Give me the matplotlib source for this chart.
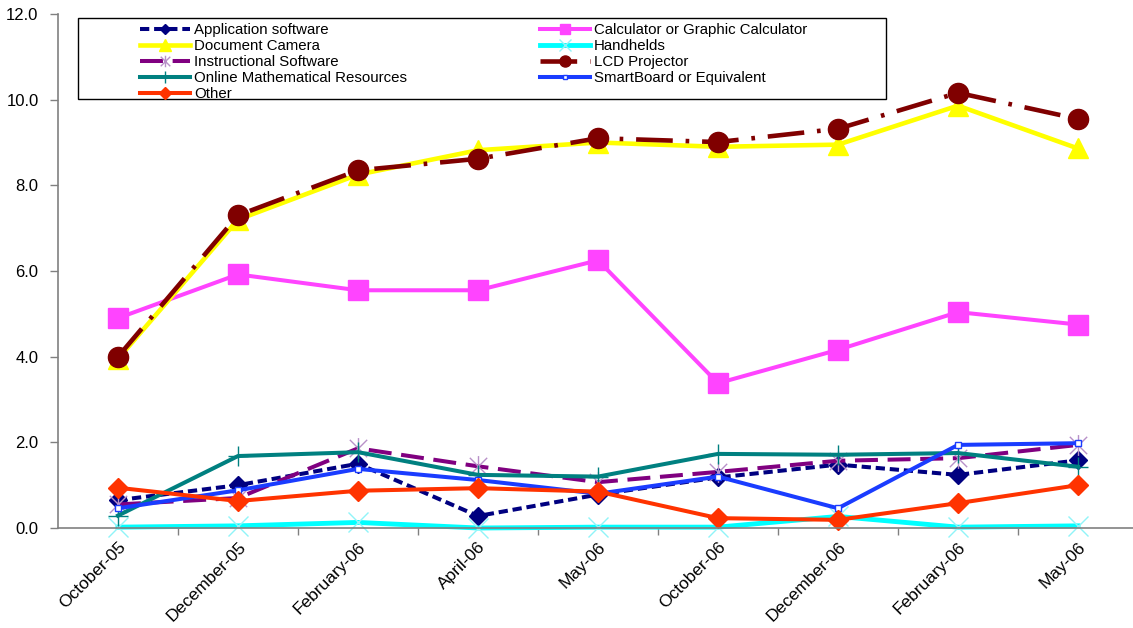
import matplotlib
matplotlib.use('Agg')
import matplotlib.pyplot as plt
from matplotlib.patches import Rectangle
from matplotlib.path import Path
from matplotlib.ticker import FormatStrFormatter

plt.rcParams['font.family'] = ['Liberation Sans', 'DejaVu Sans']

months = ['October-05', 'December-05', 'February-06', 'April-06', 'May-06',
          'October-06', 'December-06', 'February-06', 'May-06']

application_software = [0.65, 1.0, 1.5, 0.28, 0.78, 1.18, 1.48, 1.24, 1.58]
calculator = [4.9, 5.92, 5.55, 5.55, 6.25, 3.38, 4.16, 5.04, 4.75]
document_camera = [3.95, 7.2, 8.25, 8.82, 9.0, 8.9, 8.95, 9.86, 8.86]
handhelds = [0.02, 0.05, 0.13, 0.0, 0.02, 0.02, 0.27, 0.02, 0.05]
instructional_software = [0.55, 0.7, 1.86, 1.44, 1.07, 1.31, 1.57, 1.63, 1.94]
lcd_projector = [4.0, 7.3, 8.35, 8.62, 9.1, 9.01, 9.32, 10.16, 9.55]
online_resources = [0.29, 1.68, 1.77, 1.24, 1.2, 1.73, 1.71, 1.75, 1.43]
smartboard = [0.46, 0.88, 1.38, 1.12, 0.8, 1.2, 0.46, 1.94, 1.98]
other = [0.94, 0.63, 0.87, 0.93, 0.85, 0.23, 0.19, 0.58, 1.0]

# excel style star: an X with a vertical bar through it
star = Path([(-1, -1), (1, 1), (-1, 1), (1, -1), (0, -1.2), (0, 1.2)],
            [Path.MOVETO, Path.LINETO, Path.MOVETO, Path.LINETO, Path.MOVETO, Path.LINETO])

fig = plt.figure(figsize=(11.33, 6.28), dpi=100)
ax = fig.add_axes([58 / 1133, 100 / 628, 1080 / 1133, 514 / 628])

x = list(range(len(months)))
lw = 2.9

l_app, = ax.plot(x, application_software, color='#000080', lw=lw, dashes=(2.3, 1.2),
                 marker='D', ms=9.5, mfc='#000080', mec='#000080',
                 label='Application software')
l_calc, = ax.plot(x, calculator, color='#FF44FF', lw=lw, marker='s', ms=14,
                  mfc='#FF44FF', mec='#FF44FF', label='Calculator or Graphic Calculator')
l_doc, = ax.plot(x, document_camera, color='#FFFF00', lw=lw + 0.4, marker='^', ms=15,
                 mfc='#FFFF00', mec='#FFFF00', label='Document Camera')
l_hand, = ax.plot(x, handhelds, color='#00FFFF', lw=lw + 0.6, marker='x', ms=15,
                  mew=1, mec='#90F4F8', label='Handhelds')
l_instr, = ax.plot(x, instructional_software, color='#800080', lw=lw, dashes=(5.7, 2.4),
                   marker=star, ms=15, mew=1, mec='#B890C8',
                   label='Instructional Software')
l_lcd, = ax.plot(x, lcd_projector, color='#800000', lw=lw + 0.4,
                 dashes=(8, 2.8, 0.8, 2.8), marker='o', ms=14.5,
                 mfc='#800000', mec='#800000', label='LCD Projector')
l_online, = ax.plot(x, online_resources, color='#008080', lw=lw, marker='+', ms=15,
                    mew=1, mec='#008080', label='Online Mathematical Resources')
l_smart, = ax.plot(x, smartboard, color='#1A3CFF', lw=lw, marker='s', ms=5,
                   mfc='white', mec='#1A3CFF', mew=1, label='SmartBoard or Equivalent')
l_other, = ax.plot(x, other, color='#FF3300', lw=lw, marker='D', ms=10.5,
                   mfc='#FF3300', mec='#FF3300', label='Other')

ax.set_xlim(-0.5, 8.5)
ax.set_ylim(0, 12)
ax.set_yticks(range(0, 13, 2))
ax.yaxis.set_major_formatter(FormatStrFormatter('%.1f'))
ax.set_xticks(x)
ax.set_xticks([i + 0.5 for i in x], minor=True)
ax.set_xticklabels(months, rotation=45, ha='right', va='top', rotation_mode='anchor')
ax.tick_params(axis='x', which='major', length=0, pad=8, labelsize=12.5)
ax.tick_params(axis='x', which='minor', length=5, width=1, color='#808080')
ax.tick_params(axis='y', length=6, width=1, color='#808080', pad=8, labelsize=12)

for side in ['top', 'right']:
    ax.spines[side].set_visible(False)
for side in ['left', 'bottom']:
    ax.spines[side].set_color('#808080')
    ax.spines[side].set_linewidth(1.2)
for line in ax.get_lines():
    line.set_clip_on(False)

# legend frame like the spreadsheet legend box
fig.patches.append(Rectangle((78 / 1133, 1 - 99 / 628), 808 / 1133, 81 / 628,
                             transform=fig.transFigure, fill=False,
                             edgecolor='black', lw=1))

leg_kw = dict(frameon=False, fontsize=10.8, handlelength=3.3, handletextpad=0.3,
              labelspacing=0.14, borderpad=0, borderaxespad=0, markerscale=0.55,
              loc='upper left')
fig.legend(handles=[l_app, l_doc, l_instr, l_online, l_other],
           bbox_to_anchor=(140 / 1133, 1 - 23 / 628), **leg_kw)
fig.legend(handles=[l_calc, l_hand, l_lcd, l_smart],
           bbox_to_anchor=(540 / 1133, 1 - 23 / 628), **leg_kw)

fig.savefig('out.png', dpi=100)
